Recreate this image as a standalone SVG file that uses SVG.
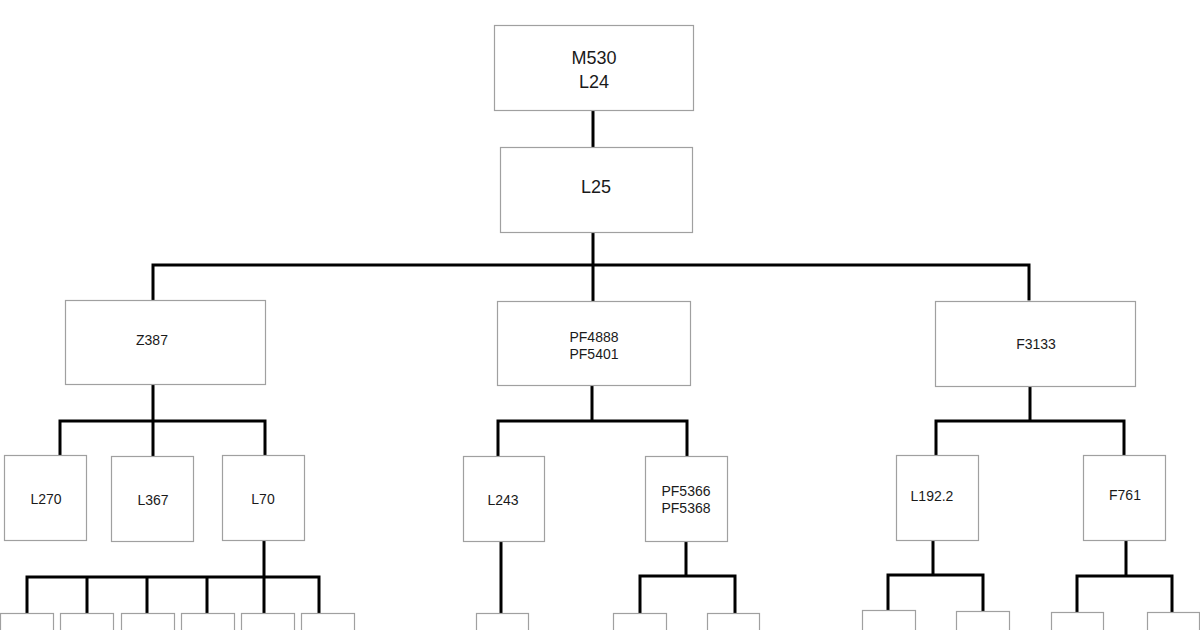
<svg xmlns="http://www.w3.org/2000/svg" width="1200" height="630" viewBox="0 0 1200 630">
<style>
.box{fill:#fff;stroke:#a0a0a0;stroke-width:1.2}
.t{font-family:"Liberation Sans Narrow","Liberation Sans",Arial,sans-serif;font-size:14px;fill:#1a1a1a;text-anchor:middle}
.big{font-size:18px}
.c{fill:none;stroke:#000;stroke-width:3;stroke-linecap:square}
</style>
<rect width="1200" height="630" fill="#fff"/>
<g id="connectors">
<path class="c" d="M593 111V146"/>
<path class="c" d="M593 233V300M153 265H1029M153 265V299M1029 265V299"/>
<path class="c" d="M153 386V455M60 421H265M60 421V455M265 421V455"/>
<path class="c" d="M592 387V421M498 421H687M498 421V456M687 421V456"/>
<path class="c" d="M1030 388V421M936 421H1124M936 421V455M1124 421V455"/>
<path class="c" d="M264 541V577M27 577H319M27 577V612M87 577V612M147 577V612M207 577V612M264 577V612M319 577V612"/>
<path class="c" d="M501 542V612"/>
<path class="c" d="M686 542V576M640 576H735M640 576V612M735 576V612"/>
<path class="c" d="M933 541V575M888 575H983M888 575V610M983 575V611"/>
<path class="c" d="M1126 541V576M1077 576H1172M1077 576V612M1172 576V612"/>
</g>
<g id="n-m530"><rect class="box" x="494.5" y="25.5" width="199" height="85"/><text class="t big" x="594" y="64">M530</text><text class="t big" x="594" y="88">L24</text></g>
<g id="n-l25"><rect class="box" x="500.5" y="147.5" width="192" height="85"/><text class="t big" x="596" y="193">L25</text></g>
<g id="n-z387"><rect class="box" x="65.5" y="300.5" width="200" height="84"/><text class="t" x="152" y="345">Z387</text></g>
<g id="n-pf4888"><rect class="box" x="497.5" y="301.5" width="193" height="84"/><text class="t" x="594" y="342">PF4888</text><text class="t" x="594" y="359">PF5401</text></g>
<g id="n-f3133"><rect class="box" x="935.5" y="301.5" width="200" height="85"/><text class="t" x="1036" y="349">F3133</text></g>
<g id="n-l270"><rect class="box" x="4.5" y="455.5" width="82" height="85"/><text class="t" x="46" y="504">L270</text></g>
<g id="n-l367"><rect class="box" x="111.5" y="456.5" width="82" height="85"/><text class="t" x="153" y="505">L367</text></g>
<g id="n-l70"><rect class="box" x="222.5" y="455.5" width="82" height="85"/><text class="t" x="263" y="504">L70</text></g>
<g id="n-l243"><rect class="box" x="463.5" y="456.5" width="81" height="85"/><text class="t" x="503" y="505">L243</text></g>
<g id="n-pf5366"><rect class="box" x="645.5" y="456.5" width="82" height="85"/><text class="t" x="686" y="496">PF5366</text><text class="t" x="686" y="513">PF5368</text></g>
<g id="n-l1922"><rect class="box" x="896.5" y="455.5" width="82" height="85"/><text class="t" x="932" y="501">L192.2</text></g>
<g id="n-f761"><rect class="box" x="1083.5" y="455.5" width="82" height="85"/><text class="t" x="1125" y="500">F761</text></g>
<g id="n-l70-1"><rect class="box" x="0.5" y="613.5" width="53" height="40"/></g>
<g id="n-l70-2"><rect class="box" x="60.5" y="613.5" width="53" height="40"/></g>
<g id="n-l70-3"><rect class="box" x="121.5" y="613.5" width="53" height="40"/></g>
<g id="n-l70-4"><rect class="box" x="181.5" y="613.5" width="53" height="40"/></g>
<g id="n-l70-5"><rect class="box" x="241.5" y="613.5" width="53" height="40"/></g>
<g id="n-l70-6"><rect class="box" x="301.5" y="613.5" width="53" height="40"/></g>
<g id="n-l243-1"><rect class="box" x="476.5" y="613.5" width="52" height="40"/></g>
<g id="n-pf-1"><rect class="box" x="613.5" y="613.5" width="53" height="40"/></g>
<g id="n-pf-2"><rect class="box" x="707.5" y="613.5" width="52" height="40"/></g>
<g id="n-l192-1"><rect class="box" x="862.5" y="610.5" width="53" height="40"/></g>
<g id="n-l192-2"><rect class="box" x="956.5" y="611.5" width="53" height="40"/></g>
<g id="n-f761-1"><rect class="box" x="1051.5" y="612.5" width="52" height="40"/></g>
<g id="n-f761-2"><rect class="box" x="1147.5" y="612.5" width="52" height="40"/></g>
</svg>
